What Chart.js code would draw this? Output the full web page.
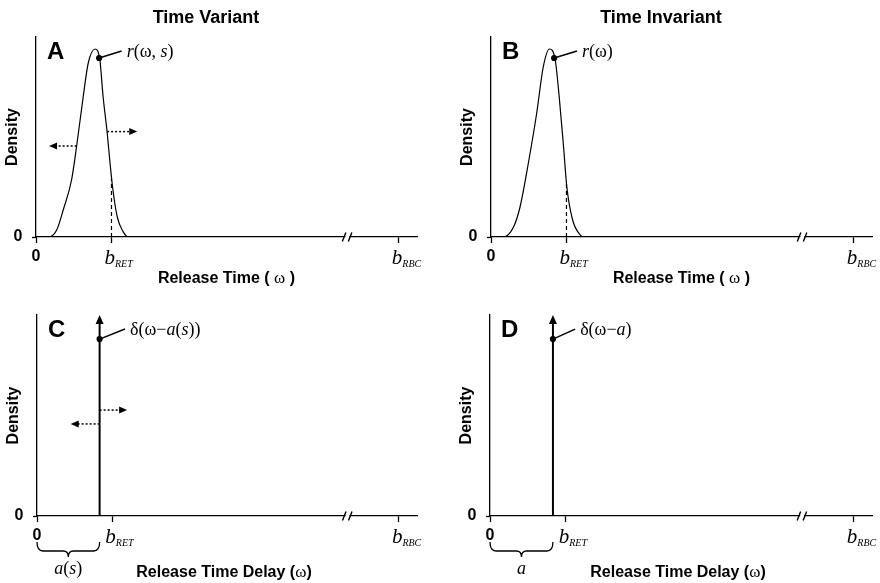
<!DOCTYPE html>
<html>
<head>
<meta charset="utf-8">
<script src="https://cdn.jsdelivr.net/npm/chart.js@4.4.1/dist/chart.umd.min.js"></script>
<style>
  body { margin: 0; background: #fff; }
  .panel { position: absolute; }
</style>
</head>
<body>
<div class="panel" style="left:0;top:0"><canvas id="chartA" width="440" height="290"></canvas></div>
<div class="panel" style="left:440px;top:0"><canvas id="chartB" width="440" height="290"></canvas></div>
<div class="panel" style="left:0;top:290px"><canvas id="chartC" width="440" height="293"></canvas></div>
<div class="panel" style="left:440px;top:290px"><canvas id="chartD" width="440" height="293"></canvas></div>
<script>
// x is release time in % of b_RBC, y is density relative to the axis height
const timeA = [0, 3.4, 5.7, 7.5, 9.8, 11.2, 13.0, 14.4, 16.3, 17.6, 18.5, 19.6, 20.4, 21.1, 22.4, 24.0, 25.4, 42];
const densityA = [0, 0, 0.035, 0.135, 0.285, 0.455, 0.70, 0.87, 0.94, 0.885, 0.70, 0.525, 0.37, 0.25, 0.10, 0.027, 0, 0];
const timeB = [0, 3.4, 6.2, 8.0, 10.3, 12.6, 14.4, 16.1, 17.7, 18.8, 20.0, 20.9, 22.5, 24.6, 25.5, 42];
const densityB = [0, 0, 0.05, 0.15, 0.37, 0.62, 0.85, 0.94, 0.885, 0.70, 0.45, 0.25, 0.085, 0.01, 0, 0];

// delta spikes (panels C, D)
const delayC = 17.3;
const delayD = 17.3;
const spikeTop = 1;

const bRet = 20.8;
const bRbc = 100;
const xTicks = [0, bRet, bRbc];
const breakAt = 85.8;
const xMax = 105;

// density where the dashed b_RET line meets the curve
const bRetDensityA = 0.29;
const bRetDensityB = 0.27;

// annotation dot -> label anchor
const dotA = [17.4, 0.895], labelAtA = [23.6, 0.93];
const dotB = [17.4, 0.895], labelAtB = [23.7, 0.93];
const dotC = [delayC, 0.88], labelAtC = [24.3, 0.93];
const dotD = [delayD, 0.88], labelAtD = [23.4, 0.93];

// dotted shift arrows: [from, to, density]
const shiftArrowsA = [[11.2, 3.6, 0.455], [19.6, 27.9, 0.527]];
const shiftArrowsC = [[delayC, 9.3, 0.458], [delayC, 24.9, 0.527]];

const SANS = '"Liberation Sans", Arial, Helvetica, sans-serif';
const SERIF = '"Liberation Serif", "Times New Roman", Times, serif';
const SANS_B = `bold 16px ${SANS}`;
const SER = `18px ${SERIF}`;
const SER_I = `italic 18px ${SERIF}`;
const OMEGA = `17px ${SERIF}`;

const pts = (xs, ys) => xs.map((v, i) => ({ x: v, y: ys[i] }));
const pt = (p) => ({ x: p[0], y: p[1] });

function lineSet(data, extra) {
  return Object.assign({
    data: data,
    borderColor: '#000',
    backgroundColor: '#000',
    borderWidth: 1.2,
    pointRadius: 0,
    tension: 0,
    fill: false,
  }, extra || {});
}

function runsWidth(ctx, runs) {
  let w = 0;
  runs.forEach(([t, f]) => { ctx.font = f; w += ctx.measureText(t).width; });
  return w;
}

function drawRuns(ctx, runs, x, y, align) {
  let cx = align === 'center' ? x - runsWidth(ctx, runs) / 2 : x;
  ctx.textAlign = 'left';
  ctx.textBaseline = 'alphabetic';
  runs.forEach(([t, f]) => {
    ctx.font = f;
    ctx.fillText(t, cx, y);
    cx += ctx.measureText(t).width;
  });
}

function bLabel(ctx, sub, x, y) {
  ctx.textAlign = 'left';
  ctx.textBaseline = 'alphabetic';
  ctx.font = `italic 21px ${SERIF}`;
  ctx.fillText('b', x, y);
  const w = ctx.measureText('b').width;
  ctx.font = `italic 10px ${SERIF}`;
  ctx.fillText(sub, x + w, y + 3);
}

function arrowHead(ctx, x, y, dx, dy, len, half) {
  // tip at (x, y), pointing along (dx, dy)
  const bx = x - dx * len, by = y - dy * len;
  ctx.beginPath();
  ctx.moveTo(x, y);
  ctx.lineTo(bx - dy * half, by + dx * half);
  ctx.lineTo(bx + dy * half, by - dx * half);
  ctx.closePath();
  ctx.fill();
}

function brace(ctx, x0, x1, y) {
  const mid = (x0 + x1) / 2;
  ctx.beginPath();
  ctx.moveTo(x0, y);
  ctx.quadraticCurveTo(x0, y + 9, x0 + 6, y + 9);
  ctx.lineTo(mid - 5, y + 9);
  ctx.quadraticCurveTo(mid, y + 9, mid, y + 15);
  ctx.quadraticCurveTo(mid, y + 9, mid + 5, y + 9);
  ctx.lineTo(x1 - 6, y + 9);
  ctx.quadraticCurveTo(x1, y + 9, x1, y);
  ctx.stroke();
}

const figurePlugin = {
  id: 'figure',
  afterDraw(chart, args, o) {
    const { ctx, chartArea: ca } = chart;
    const x = chart.scales.x, y = chart.scales.y;
    ctx.save();
    ctx.fillStyle = '#000';
    ctx.strokeStyle = '#000';

    if (o.title) {
      ctx.font = `bold 18px ${SANS}`;
      ctx.textAlign = 'center';
      ctx.textBaseline = 'alphabetic';
      ctx.fillText(o.title, ca.left + 170, 23);
    }

    ctx.font = `bold 24px ${SANS}`;
    ctx.textAlign = 'left';
    ctx.textBaseline = 'alphabetic';
    ctx.fillText(o.letter, ca.left + 11, ca.top + 22);

    // y axis
    ctx.save();
    ctx.translate(ca.left - 23, (ca.top + ca.bottom) / 2);
    ctx.rotate(-Math.PI / 2);
    ctx.font = SANS_B;
    ctx.textAlign = 'center';
    ctx.textBaseline = 'middle';
    ctx.fillText('Density', 0, 0);
    ctx.restore();
    ctx.font = SANS_B;
    ctx.textAlign = 'center';
    ctx.textBaseline = 'middle';
    ctx.fillText('0', ca.left - 18, y.getPixelForValue(0));

    // x tick labels
    ctx.fillText('0', x.getPixelForValue(xTicks[0]), ca.bottom + 20);
    bLabel(ctx, 'RET', x.getPixelForValue(xTicks[1]) - 7, ca.bottom + 27);
    bLabel(ctx, 'RBC', x.getPixelForValue(xTicks[2]) - 7, ca.bottom + 27);

    // axis break
    const bx = x.getPixelForValue(breakAt), by = ca.bottom;
    ctx.fillStyle = '#fff';
    ctx.fillRect(bx - 2, by - 2, 4, 4);
    ctx.fillStyle = '#000';
    ctx.lineWidth = 1.4;
    ctx.beginPath();
    ctx.moveTo(bx - 5, by + 4.5); ctx.lineTo(bx - 1.5, by - 4.5);
    ctx.moveTo(bx + 1, by + 4.5); ctx.lineTo(bx + 4.5, by - 4.5);
    ctx.stroke();

    // x axis title
    drawRuns(ctx, o.xTitle, (ca.left + ca.right) / 2 + (o.xTitleShift || 0), ca.bottom + o.xTitleGap, 'center');

    // curve / spike label
    drawRuns(ctx, o.label, x.getPixelForValue(o.labelAt[0]) + 5, y.getPixelForValue(o.labelAt[1]) + 6, 'left');

    // dotted arrows heads
    (o.arrows || []).forEach(([x0, x1, yy]) => {
      const dir = x1 > x0 ? 1 : -1;
      arrowHead(ctx, x.getPixelForValue(x1), y.getPixelForValue(yy), dir, 0, 8, 3.5);
    });

    if (o.spike !== undefined) {
      arrowHead(ctx, x.getPixelForValue(o.spike), y.getPixelForValue(spikeTop), 0, -1, 9, 4);
      ctx.lineWidth = 1.3;
      brace(ctx, x.getPixelForValue(0), x.getPixelForValue(o.spike), ca.bottom + 26);
      drawRuns(ctx, o.braceLabel, x.getPixelForValue(o.spike / 2), ca.bottom + 58, 'center');
    }
    ctx.restore();
  }
};

function makeChart(id, box, datasets, fig) {
  const canvas = document.getElementById(id);
  return new Chart(canvas.getContext('2d'), {
    type: 'line',
    data: { datasets: datasets },
    plugins: [figurePlugin],
    options: {
      responsive: false,
      animation: false,
      events: [],
      layout: {
        autoPadding: false,
        padding: { left: 0, top: box.top, right: canvas.width - box.right, bottom: 0 },
      },
      scales: {
        x: {
          type: 'linear',
          min: 0,
          max: xMax,
          afterBuildTicks: (s) => { s.ticks = xTicks.map((v) => ({ value: v })); },
          afterFit: (s) => { s.height = canvas.height - box.bottom; },
          ticks: { display: false },
          grid: { drawOnChartArea: false, drawTicks: true, tickLength: 6, tickColor: '#000', tickWidth: 1.3 },
          border: { display: true, color: '#000', width: 1.3 },
        },
        y: {
          min: 0,
          max: 1,
          afterBuildTicks: (s) => { s.ticks = [{ value: 0 }]; },
          afterFit: (s) => { s.width = box.left; },
          ticks: { display: false },
          grid: { drawOnChartArea: false, drawTicks: true, tickLength: 4, tickColor: '#000', tickWidth: 1.3 },
          border: { display: true, color: '#000', width: 1.3 },
        },
      },
      plugins: {
        legend: { display: false },
        tooltip: { enabled: false },
        figure: fig,
      },
    },
  });
}

function curveSets(xs, ys, dRet, dot, labelAt, arrows) {
  const sets = [
    lineSet(pts(xs, ys), { cubicInterpolationMode: 'monotone' }),
    lineSet([{ x: bRet, y: 0 }, { x: bRet, y: dRet }], { borderDash: [4, 3] }),
    lineSet([pt(dot), pt(labelAt)], { borderWidth: 1.5 }),
    lineSet([pt(dot)], { showLine: false, pointRadius: 2.5 }),
  ];
  (arrows || []).forEach(([x0, x1, yy]) => {
    sets.push(lineSet([{ x: x0, y: yy }, { x: x1 - Math.sign(x1 - x0) * 1.5, y: yy }], { borderDash: [2, 2], borderWidth: 1.5 }));
  });
  return sets;
}

function spikeSets(at, dot, labelAt, arrows) {
  const sets = [
    lineSet([{ x: at, y: 0 }, { x: at, y: spikeTop - 0.02 }], { borderWidth: 2 }),
    lineSet([pt(dot), pt(labelAt)], { borderWidth: 1.5 }),
    lineSet([pt(dot)], { showLine: false, pointRadius: 2.5 }),
  ];
  (arrows || []).forEach(([x0, x1, yy]) => {
    sets.push(lineSet([{ x: x0, y: yy }, { x: x1 - Math.sign(x1 - x0) * 1.5, y: yy }], { borderDash: [2, 2], borderWidth: 1.5 }));
  });
  return sets;
}

const topTitle = [['Release Time ( ', SANS_B], ['\u03c9', OMEGA], [' )', SANS_B]];
const delayTitle = [['Release Time Delay (', SANS_B], ['\u03c9', OMEGA], [')', SANS_B]];

makeChart('chartA', { left: 36, right: 417, top: 37, bottom: 237 },
  curveSets(timeA, densityA, bRetDensityA, dotA, labelAtA, shiftArrowsA), {
    title: 'Time Variant', letter: 'A', xTitle: topTitle, xTitleGap: 46,
    label: [['r', SER_I], ['(\u03c9, ', SER], ['s', SER_I], [')', SER]], labelAt: labelAtA,
    arrows: shiftArrowsA,
  });

makeChart('chartB', { left: 51, right: 432, top: 37, bottom: 237 },
  curveSets(timeB, densityB, bRetDensityB, dotB, labelAtB), {
    title: 'Time Invariant', letter: 'B', xTitle: topTitle, xTitleGap: 46,
    label: [['r', SER_I], ['(\u03c9)', SER]], labelAt: labelAtB,
  });

makeChart('chartC', { left: 37, right: 417, top: 25, bottom: 226 },
  spikeSets(delayC, dotC, labelAtC, shiftArrowsC), {
    letter: 'C', xTitle: delayTitle, xTitleGap: 61, xTitleShift: -3,
    label: [['\u03b4(\u03c9\u2212', SER], ['a', SER_I], ['(', SER], ['s', SER_I], ['))', SER]], labelAt: labelAtC,
    arrows: shiftArrowsC, spike: delayC,
    braceLabel: [['a', SER_I], ['(', SER], ['s', SER_I], [')', SER]],
  });

makeChart('chartD', { left: 50, right: 432, top: 25, bottom: 226 },
  spikeSets(delayD, dotD, labelAtD), {
    letter: 'D', xTitle: delayTitle, xTitleGap: 61, xTitleShift: -3,
    label: [['\u03b4(\u03c9\u2212', SER], ['a', SER_I], [')', SER]], labelAt: labelAtD,
    spike: delayD,
    braceLabel: [['a', SER_I]],
  });
</script>
</body>
</html>
